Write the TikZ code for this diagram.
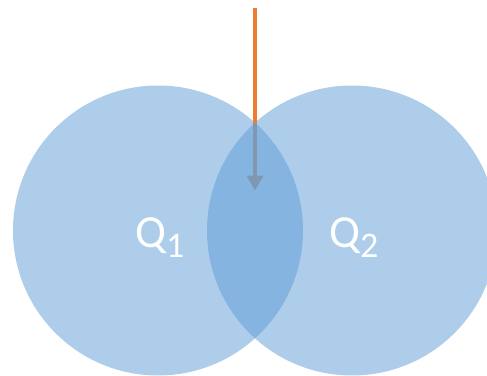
\documentclass[tikz,border=0pt]{standalone}
\usepackage{fontspec}
\setmainfont{Carlito}
\usetikzlibrary{arrows.meta}
\definecolor{venn}{HTML}{5B9BD5}
\definecolor{orng}{HTML}{ED7D31}
\definecolor{arr}{HTML}{8097B1}
\tikzset{
  setcircle/.style={circle, minimum size=290pt, inner sep=0pt, fill=venn, fill opacity=0.5, draw=none},
  setlabel/.style={anchor=base west, inner sep=0pt, text=white, font=\fontsize{46}{46}\selectfont},
}
\newcommand{\subsc}[1]{\raisebox{-10pt}{\fontsize{36}{36}\selectfont #1}}
\begin{document}
\begin{tikzpicture}[x=1pt,y=-1pt]
\useasboundingbox (0,0) rectangle (487,375);
\clip (0,0) rectangle (487,375);
\node[setcircle] (c1) at (158,230.5) {};
\node[setcircle] (c2) at (352,230.5) {};
\node[setlabel] (q1) at (135,247) {Q\subsc{1}};
\node[setlabel] (q2) at (329,247) {Q\subsc{2}};
\coordinate (top) at (255,8);
\coordinate (mid) at (255,123);
\coordinate (tip) at (255,190.5);
\draw[orng, line width=4pt] (top) -- (mid);
\draw[arr, line width=4pt, -{Triangle[width=16pt,length=15pt]}] (mid) -- (tip);
\end{tikzpicture}
\end{document}
